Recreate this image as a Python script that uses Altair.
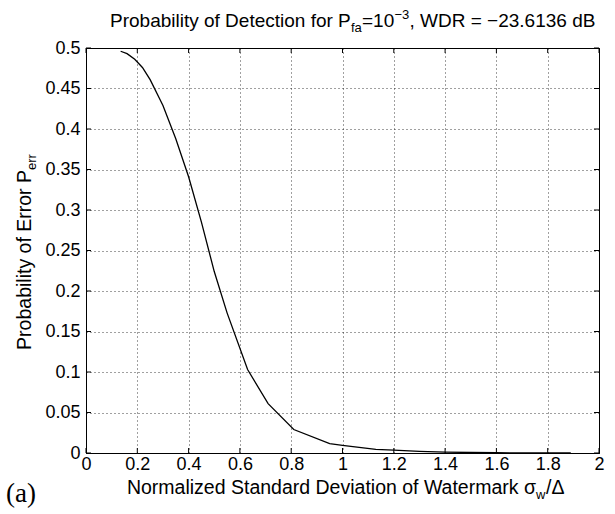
import altair as alt
import pandas as pd

# ---- data ----
sigma = [0.135, 0.16, 0.19, 0.22, 0.25, 0.30, 0.35, 0.40, 0.45, 0.50, 0.55,
         0.63, 0.71, 0.81, 0.95, 1.00, 1.13, 1.20, 1.30, 1.40, 1.60, 1.89]
perr = [0.496, 0.493, 0.486, 0.476, 0.461, 0.429, 0.388, 0.341, 0.285, 0.224, 0.173,
        0.103, 0.061, 0.029, 0.0115, 0.0095, 0.0045, 0.0035, 0.002, 0.001, 0.0003, 0.0001]

x_ticks = [0, 0.2, 0.4, 0.6, 0.8, 1.0, 1.2, 1.4, 1.6, 1.8, 2.0]
y_ticks = [0, 0.05, 0.1, 0.15, 0.2, 0.25, 0.3, 0.35, 0.4, 0.45, 0.5]

title_parts = ["Probability of Detection for P", "fa", "=10", "\u22123", ", WDR = \u221223.6136 dB"]
xlabel_parts = ["Normalized Standard Deviation of Watermark \u03c3", "w", "/\u0394"]
ylabel_parts = ["Probability of Error P", "err"]
panel_label = ["(a)"]

W, H = 513, 405
L, T = 86, 48
FONT = "Liberation Sans"

curve = pd.DataFrame({"sigma": sigma, "perr": perr})
xt = pd.DataFrame({"v": x_ticks})
yt = pd.DataFrame({"v": y_ticks})

xs = alt.Scale(domain=[0, 2], nice=False, zero=False)
ys = alt.Scale(domain=[0, 0.5], nice=False, zero=False)

line = alt.Chart(curve).mark_line(color="black", strokeWidth=1.3).encode(
    x=alt.X("sigma:Q", scale=xs,
            axis=alt.Axis(values=x_ticks, format=".1~f", title=None, ticks=False, tickSize=0,
                          grid=True, gridDash=[1, 3], gridColor="#000", gridOpacity=0.75,
                          labelFont=FONT, labelFontSize=18, labelColor="black", labelPadding=2,
                          domainColor="black", labelFlush=False)),
    y=alt.Y("perr:Q", scale=ys,
            axis=alt.Axis(values=y_ticks, format=".2~f", title=None, ticks=False, tickSize=0,
                          grid=True, gridDash=[1, 3], gridColor="#000", gridOpacity=0.75,
                          labelFont=FONT, labelFontSize=18, labelColor="black", labelPadding=6,
                          domainColor="black", labelFlush=False)),
)

TL = 5
xt_bot = alt.Chart(xt).mark_rule(color="black").encode(
    x=alt.X("v:Q", scale=xs), y=alt.value(H), y2=alt.value(H - TL))
xt_top = alt.Chart(xt).mark_rule(color="black").encode(
    x=alt.X("v:Q", scale=xs), y=alt.value(0), y2=alt.value(TL))
yt_left = alt.Chart(yt).mark_rule(color="black").encode(
    y=alt.Y("v:Q", scale=ys), x=alt.value(0), x2=alt.value(TL))
yt_right = alt.Chart(yt).mark_rule(color="black").encode(
    y=alt.Y("v:Q", scale=ys), x=alt.value(W), x2=alt.value(W - TL))


def txt(s, X, Y, size, align="left", angle=0, font=FONT):
    kw = dict(align=align, baseline="alphabetic", fontSize=size, font=font, color="black")
    if angle:
        kw["angle"] = angle
    return alt.Chart(pd.DataFrame({"t": [s]})).mark_text(**kw).encode(
        text="t:N", x=alt.value(X - L), y=alt.value(Y - T))


TS = 19
texts = [
    txt(title_parts[0], 110, 27, TS),
    txt(title_parts[1], 351, 32, 13),
    txt(title_parts[2], 362, 27, TS),
    txt(title_parts[3], 394.5, 19, 13),
    txt(title_parts[4], 409.5, 27, TS),
    txt(xlabel_parts[0], 536, 494, 19.5, align="right"),
    txt(xlabel_parts[1], 536, 499, 13),
    txt(xlabel_parts[2], 546, 494, 19.5),
    txt(ylabel_parts[0], 31, 170, 19.5, align="right", angle=270),
    txt(ylabel_parts[1], 36, 170, 13, align="left", angle=270),
    txt(panel_label[0], 6, 502, 27, font="Liberation Serif"),
]

chart = alt.layer(line, xt_bot, xt_top, yt_left, yt_right, *texts).properties(
    width=W, height=H,
    padding={"left": L, "top": T, "right": 615 - L - W, "bottom": 514 - T - H},
    autosize=alt.AutoSizeParams(type="none"),
    background="white",
).configure_view(stroke="black", strokeWidth=1)

chart.save("out.html", embed_options={"renderer": "svg", "actions": False})
